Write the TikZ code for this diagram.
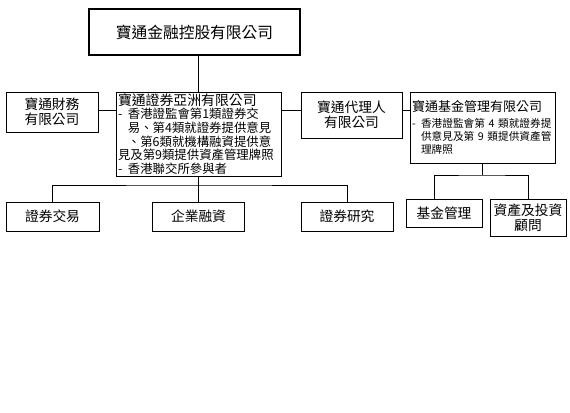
\documentclass[tikz,border=0pt]{standalone}
\usepackage{fontspec}
\setmainfont{Noto Sans CJK TC}
\usetikzlibrary{calc}

\tikzset{every picture/.style={line width=0.75pt}}
\tikzset{
  boxsize/.style 2 args={minimum width={#1*0.75pt},minimum height={#2*0.75pt}},
  orgbox/.style={draw, inner sep=0pt, align=center, font=\fontsize{10.3}{11.6}\selectfont},
  listbox/.style={draw, inner xsep=1.5pt, inner ysep=0pt, align=left},
}

\begin{document}
\begin{tikzpicture}[x=0.75pt,y=0.75pt,yscale=-1,xscale=1]
\useasboundingbox (0,0) rectangle (570,412);

%Shape: Rectangle
\node [orgbox, boxsize={211}{46}, line width=1.1pt, font=\fontsize{11.8}{14}\selectfont] (holding) at (194.5,32) {寶通金融控股有限公司};

%Shape: Rectangle
\node [orgbox, boxsize={92}{40}] (finance) at (52,112) {寶通財務\\有限公司};
%Shape: Rectangle
\node [listbox, boxsize={165}{84}, text width=120.75pt, font=\fontsize{9.3}{10.2}\selectfont] (sec) at (198.5,134) {%
{\fontsize{10.4}{10.2}\selectfont 寶通證券亞洲有限公司}\\
\makebox[0.8em][l]{-}香港證監會第1類證券交\\
\hspace*{0.8em}易、第4類就證券提供意見\\
\hspace*{0.8em}、第6類就機構融資提供意\\
見及第9類提供資產管理牌照\\
\makebox[0.8em][l]{-}香港聯交所參與者};
%Shape: Rectangle
\node [orgbox, boxsize={101}{46}] (agent) at (351.5,115) {寶通代理人\\有限公司};
%Shape: Rectangle
\node [listbox, boxsize={145}{71}, text width=105.75pt, font=\fontsize{8}{9.75}\selectfont] (fund) at (482.5,127.5) {%
{\fontsize{9.75}{9.75}\selectfont 寶通基金管理有限公司}\\[2.5pt]
\makebox[0.85em][l]{-}香港證監會第 4 類就證券提\\
\hspace*{0.85em}供意見及第 9 類提供資產管\\
\hspace*{0.85em}理牌照};

%Shape: Rectangle
\node [orgbox, boxsize={93}{29}] (trade) at (52.5,216.5) {證券交易};
%Shape: Rectangle
\node [orgbox, boxsize={92}{29}] (corp) at (198.5,216.5) {企業融資};
%Shape: Rectangle
\node [orgbox, boxsize={92}{29}] (research) at (347,216.5) {證券研究};
%Shape: Rectangle
\node [orgbox, boxsize={76}{28}] (fm) at (444,213) {基金管理};
%Shape: Rectangle
\node [orgbox, boxsize={76}{37}] (aim) at (528,217.5) {資產及投資\\顧問};

\coordinate (sibling) at (0,110);
\coordinate (secbus) at (0,185);
\coordinate (fundbus) at (0,175);

%Straight Lines
\draw (holding.south -| sec.north) -- (sec.north);
%Straight Lines
\draw (finance.east |- sibling) -- (sec.west |- sibling);
\draw (sec.east |- sibling) -- (agent.west |- sibling);
\draw (agent.east |- sibling) -- (fund.west |- sibling);
%Straight Lines
\draw (sec.south) -- (corp.north);
\draw (trade.north) |- (sec.south |- secbus) -| (research.north);
%Straight Lines
\draw (fund.south) -- (fund.south |- fundbus);
\draw ($(fm.north)+(-10,0)$) |- (fund.south |- fundbus) -| (aim.north);

\end{tikzpicture}
\end{document}
